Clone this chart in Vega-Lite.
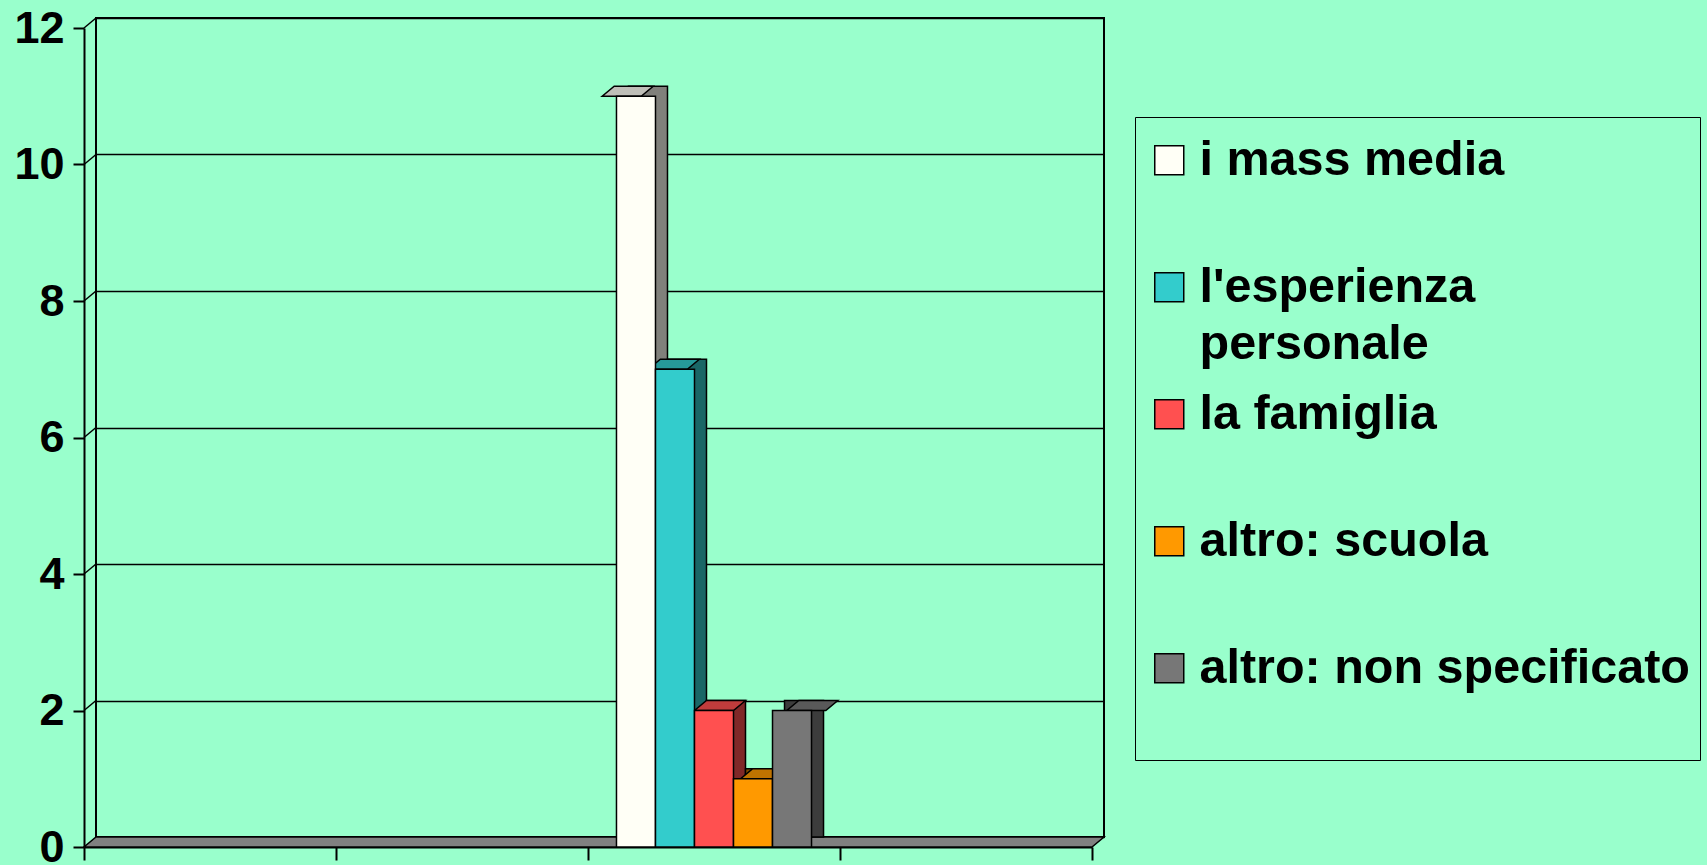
{
  "$schema": "https://vega.github.io/schema/vega-lite/v6.json",
  "width": 1008,
  "height": 819,
  "autosize": "none",
  "padding": {"left": 96, "top": 18, "right": 603, "bottom": 28},
  "background": "#99FFCC",
  "config": {
    "view": {"stroke": "black", "strokeWidth": 2},
    "font": "Liberation Sans",
    "style": {"guide-label": {"lineHeight": 57}}
  },
  "data": {
    "values": [
      {"categoria": "3", "fonte": "i mass media", "valore": 11},
      {"categoria": "3", "fonte": "l'esperienza personale", "valore": 7},
      {"categoria": "3", "fonte": "la famiglia", "valore": 2},
      {"categoria": "3", "fonte": "altro: scuola", "valore": 1},
      {"categoria": "3", "fonte": "altro: non specificato", "valore": 2}
    ]
  },
  "layer": [
    {
      "data": {"values": [{}]},
      "mark": {
        "type": "point",
        "shape": "M-504,0L504,0L492,10L-516,10Z",
        "size": 4,
        "filled": true,
        "fill": "#808080",
        "stroke": "black",
        "strokeWidth": 1.5,
        "opacity": 1
      },
      "encoding": {
        "y": {"datum": 0, "type": "quantitative", "scale": {"domain": [0, 12], "nice": false}, "axis": null}
      }
    },
    {
      "data": {"values": [{"tacca": 2}, {"tacca": 4}, {"tacca": 6}, {"tacca": 8}, {"tacca": 10}, {"tacca": 12}]},
      "mark": {
        "type": "point",
        "shape": "M-504,0L-516,10",
        "size": 4,
        "filled": false,
        "stroke": "black",
        "strokeWidth": 1.5,
        "opacity": 1
      },
      "encoding": {
        "y": {"field": "tacca", "type": "quantitative", "scale": {"domain": [0, 12], "nice": false}, "axis": null}
      }
    },
    {
      "mark": {"type": "bar", "stroke": "black", "strokeWidth": 1.5, "opacity": 1},
      "encoding": {
        "x": {"field": "categoria", "type": "nominal", "scale": {"domain": ["1", "2", "3", "4"], "paddingInner": 0, "paddingOuter": 0}, "axis": null},
        "xOffset": {"field": "fonte", "type": "nominal", "scale": {"domain": ["i mass media", "l'esperienza personale", "la famiglia", "altro: scuola", "altro: non specificato"], "paddingInner": 0, "paddingOuter": 0.73}},
        "y": {"field": "valore", "type": "quantitative", "scale": {"domain": [0, 12], "nice": false},
          "axis": {"orient": "left", "grid": true, "labels": false, "ticks": false, "domain": false, "values": [0, 2, 4, 6, 8, 10, 12], "gridColor": "black", "gridWidth": 1.5, "gridOpacity": 1, "title": null}},
        "fill": {"field": "fonte", "type": "nominal", "legend": null,
          "scale": {"domain": ["i mass media", "l'esperienza personale", "la famiglia", "altro: scuola", "altro: non specificato"], "range": ["#80807B", "#1A6666", "#802828", "#804C00", "#3C3C3C"]}}
      }
    },
    {
      "mark": {"type": "point", "shape": "M-19.5,0L19.5,0L7.5,10L-31.5,10Z", "size": 4, "filled": true, "stroke": "black", "strokeWidth": 1.5, "opacity": 1},
      "encoding": {
        "x": {"field": "categoria", "type": "nominal", "scale": {"domain": ["1", "2", "3", "4"], "paddingInner": 0, "paddingOuter": 0}, "axis": null},
        "xOffset": {"field": "fonte", "type": "nominal", "scale": {"domain": ["i mass media", "l'esperienza personale", "la famiglia", "altro: scuola", "altro: non specificato"], "paddingInner": 0, "paddingOuter": 0.73}},
        "y": {"field": "valore", "type": "quantitative", "scale": {"domain": [0, 12], "nice": false}, "axis": null},
        "fill": {"field": "fonte", "type": "nominal", "legend": null,
          "scale": {"domain": ["i mass media", "l'esperienza personale", "la famiglia", "altro: scuola", "altro: non specificato"], "range": ["#BFBFB8", "#269999", "#BF3C3C", "#BF7300", "#595959"]}}
      }
    },
    {
      "mark": {"type": "bar", "stroke": "black", "strokeWidth": 1.5, "opacity": 1, "yOffset": 10, "y2Offset": 10},
      "encoding": {
        "x": {"field": "categoria", "type": "nominal", "scale": {"domain": ["1", "2", "3", "4"], "paddingInner": 0, "paddingOuter": 0, "range": [-12, 996]},
          "axis": {"orient": "bottom", "labels": false, "title": null, "tickBand": "extent", "offset": 10, "domainColor": "black", "domainWidth": 2, "tickColor": "black", "tickWidth": 2, "tickSize": 13, "grid": false}},
        "xOffset": {"field": "fonte", "type": "nominal", "scale": {"domain": ["i mass media", "l'esperienza personale", "la famiglia", "altro: scuola", "altro: non specificato"], "paddingInner": 0, "paddingOuter": 0.73}},
        "y": {"field": "valore", "type": "quantitative", "scale": {"domain": [0, 12], "nice": false},
          "axis": {"orient": "left", "grid": false, "offset": 12, "position": 10, "values": [0, 2, 4, 6, 8, 10, 12], "title": null,
            "domainColor": "black", "domainWidth": 2, "tickColor": "black", "tickWidth": 2, "tickSize": 11,
            "labelFont": "Liberation Sans", "labelFontWeight": "bold", "labelFontSize": 45, "labelColor": "black", "labelPadding": 9}},
        "color": {"field": "fonte", "type": "nominal",
          "scale": {"domain": ["i mass media", "l'esperienza personale", "la famiglia", "altro: scuola", "altro: non specificato"], "range": ["#FFFFF6", "#33CCCC", "#FF5050", "#FF9900", "#777777"]},
          "legend": {
            "title": " ", "titleFontSize": 1, "titlePadding": 8,
            "orient": "none", "legendX": 1039, "legendY": 99,
            "padding": 10, "strokeColor": "black", "fillColor": "#99FFCC",
            "symbolType": "square", "symbolSize": 841, "symbolStrokeColor": "black", "symbolStrokeWidth": 1.5, "symbolOpacity": 1,
            "labelFont": "Liberation Sans", "labelFontSize": 48.5, "labelFontWeight": "bold", "labelColor": "black", "labelLimit": 700, "labelOffset": 6,
            "gridAlign": "all", "rowPadding": 21,
            "labelExpr": "datum.label == \"l'esperienza personale\" ? [\"l'esperienza\", \"personale\"] : datum.label == \"altro: non specificato\" ? [\"altro: non specificato\", \"\"] : datum.label"
          }}
      }
    }
  ],
  "resolve": {"scale": {"fill": "independent", "x": "independent", "xOffset": "independent"}, "axis": {"y": "independent"}}
}
